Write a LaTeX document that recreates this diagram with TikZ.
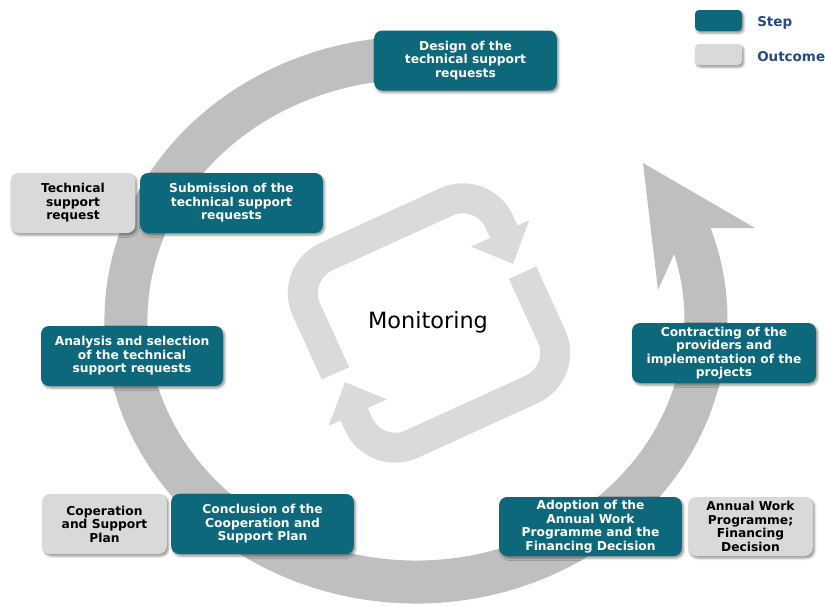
\documentclass[tikz,border=0pt]{standalone}
\usepackage{fontspec}
\setmainfont{DejaVu Sans}
\usetikzlibrary{shadows.blur}
\definecolor{teal0}{RGB}{12,104,122}
\definecolor{outgrey}{RGB}{217,217,217}
\definecolor{ringgrey}{RGB}{191,191,191}
\definecolor{icongrey}{RGB}{218,218,218}
\definecolor{legblue}{RGB}{40,72,135}
\begin{document}
\begin{tikzpicture}[x=0.75pt,y=-0.75pt,
  box/.style={rounded corners=6pt, align=center, inner sep=0pt,
    font=\bfseries\fontsize{9.2}{10.1}\selectfont,
    blur shadow={shadow xshift=1.2pt, shadow yshift=-1.5pt, shadow blur radius=1.8pt, shadow opacity=45}},
  stepbox/.style={box, fill=teal0, text=white, minimum width=137pt, minimum height=45pt},
  outbox/.style={box, fill=outgrey, text=black, minimum width=93.5pt, minimum height=45pt},
  legbox/.style={box, minimum width=35.25pt, minimum height=15.75pt, rounded corners=3pt},
  leglabel/.style={anchor=base west, inner sep=0pt, text=legblue, font=\bfseries\fontsize{10.1}{12}\selectfont},
  ringline/.style={ringgrey, line width=32.25pt},
  iconline/.style={icongrey, line width=22.5pt, rounded corners=30pt}
]
\useasboundingbox (0,0) rectangle (825,607);

% big cycle arrow
\draw[ringline] (416,320) ++(281:290 and 262)
  arc[start angle=281, end angle=-19, x radius=290, y radius=262];
\coordinate (hj1) at (675,252);
\coordinate (hb1) at (658,290);
\coordinate (htip) at (643,163);
\coordinate (hb2) at (755,228);
\coordinate (hj2) at (707,228);
\fill[ringgrey] (hj1) -- (hb1) -- (htip) -- (hb2) -- (hj2) -- cycle;

% monitoring refresh icon
\begin{scope}[shift={(429,323)}, rotate=24.5, yscale=-1]
  \draw[iconline] (-106,-7) -- (-106,103) -- (106,103) -- (106,50);
  \fill[icongrey] (70,52) -- (134,52) -- (101,19) -- cycle;
\end{scope}
\begin{scope}[shift={(429,323)}, rotate=204.5, yscale=-1]
  \draw[iconline] (-106,-7) -- (-106,103) -- (106,103) -- (106,50);
  \fill[icongrey] (70,52) -- (134,52) -- (101,19) -- cycle;
\end{scope}
\node[anchor=base, inner sep=0pt, font=\fontsize{16.8}{20}\selectfont] (mon) at (428,328) {Monitoring};

% steps and outcomes
\node[stepbox] (design) at (465.5,60.5) {Design of the\\technical support\\requests};
\node[stepbox] (submit) at (231.5,203) {Submission of the\\technical support\\requests};
\node[outbox] (techreq) at (73,203) {Technical\\support\\request};
\node[stepbox, minimum width=136.5pt] (analysis) at (132,356) {Analysis and selection\\of the technical\\support requests};
\node[stepbox, minimum width=138pt] (contract) at (724,353) {Contracting of the\\providers and\\implementation of the\\projects};
\node[stepbox] (concl) at (262.5,524) {Conclusion of the\\Cooperation and\\Support Plan};
\node[outbox] (coop) at (104.5,524) {Coperation\\and Support\\Plan};
\node[stepbox, minimum height=44.25pt] (adopt) at (590.5,526.5) {Adoption of the\\Annual Work\\Programme and the\\Financing Decision};
\node[outbox, minimum height=44.25pt] (awp) at (750.5,526.5) {Annual Work\\Programme;\\Financing\\Decision};

% legend
\node[legbox, fill=teal0] (legstep) at (718.5,20.5) {};
\node[legbox, fill=outgrey] (legout) at (718.5,54.5) {};
\node[leglabel] (steplab) at (757,26.7) {Step};
\node[leglabel] (outlab) at (757,61.5) {Outcome};
\end{tikzpicture}
\end{document}
